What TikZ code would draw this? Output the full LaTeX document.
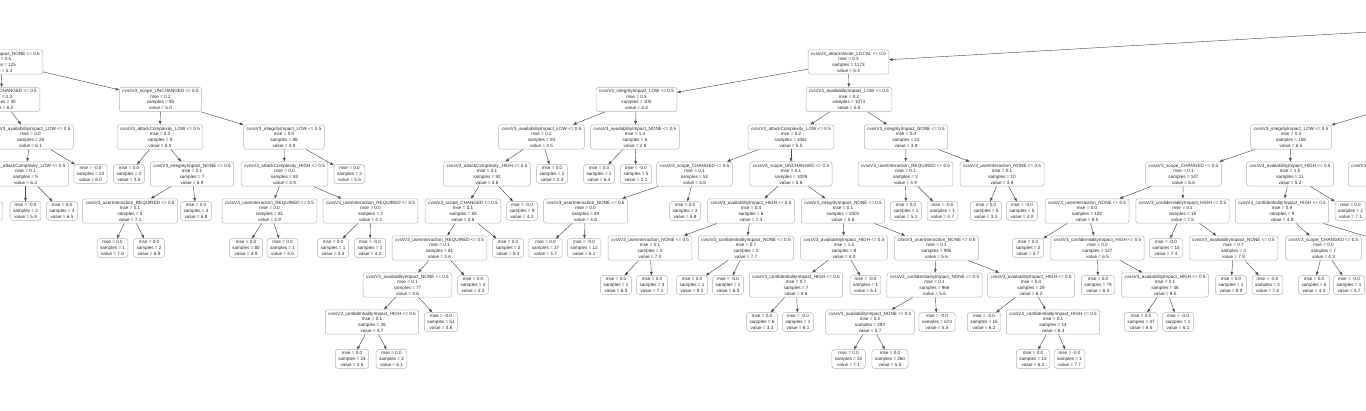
\documentclass[tikz,border=0pt]{standalone}
\usepackage{fontspec}
\setmainfont{Liberation Sans}
\usetikzlibrary{arrows.meta}

\newcommand{\condtxt}[4]{cvssV3\_#1 <= 0.5\\mse = #2\\samples = #3\\value = #4}
\newcommand{\leaftxt}[3]{mse = #1\\samples = #2\\value = #3}

\begin{document}
\begin{tikzpicture}[x=1pt, y=-1pt,
    >={Triangle[length=3.5pt,width=2.6pt]},
    decision/.style={draw=gray!60, line width=0.5pt, rounded corners=2.5pt,
        align=center, inner xsep=3pt, inner ysep=2pt, text=black!85,
        font=\fontsize{4.6}{5.7}\selectfont},
    leafbox/.style={decision},
    link/.style={->, draw=black!70, line width=0.45pt}]
    \useasboundingbox (0,0) rectangle (1366,410);
    \clip (0,0) rectangle (1366,410);

    % --- left part ---
    \node[decision, anchor=east] (l0) at (43,62) {\condtxt{integrityImpact\_NONE}{0.5}{125}{5.3}};
    \node[decision, anchor=east] (l1a) at (40,99.5) {\condtxt{scope\_CHANGED}{0.3}{30}{6.2}};
    \node[decision] (l1b) at (160.5,99.5) {\condtxt{scope\_UNCHANGED}{0.2}{95}{5.0}};
    \node[decision] (l2a) at (30.5,137) {\condtxt{availabilityImpact\_LOW}{0.0}{28}{6.1}};
    \node[decision] (l2b) at (160,137) {\condtxt{attackComplexity\_LOW}{0.3}{9}{6.0}};
    \node[decision] (l2c) at (284,137) {\condtxt{integrityImpact\_LOW}{0.0}{86}{4.9}};
    \node[decision] (l3a) at (25.5,174) {\condtxt{attackComplexity\_LOW}{0.1}{5}{6.3}};
    \node[leafbox] (l3b) at (90.5,174) {\leaftxt{-0.0}{23}{6.0}};
    \node[leafbox] (l3c) at (129,174) {\leaftxt{0.0}{2}{3.0}};
    \node[decision] (l3d) at (192,174) {\condtxt{integrityImpact\_NONE}{0.1}{7}{6.9}};
    \node[decision] (l3e) at (284.5,174) {\condtxt{attackComplexity\_HIGH}{0.0}{83}{4.9}};
    \node[leafbox] (l3f) at (349.5,174) {\leaftxt{0.0}{3}{5.5}};
    \node[leafbox, anchor=east] (l4z) at (3,211) {\leaftxt{0.0}{1}{7.6}};
    \node[leafbox] (l4a) at (25.5,211) {\leaftxt{-0.0}{2}{5.9}};
    \node[leafbox] (l4b) at (62,211) {\leaftxt{0.0}{3}{6.5}};
    \node[decision] (l4c) at (130,211) {\condtxt{userInteraction\_REQUIRED}{0.1}{3}{7.1}};
    \node[leafbox] (l4d) at (196,211) {\leaftxt{0.0}{4}{6.8}};
    \node[decision] (l4e) at (269.5,211) {\condtxt{userInteraction\_REQUIRED}{0.0}{81}{4.9}};
    \node[decision] (l4f) at (370.5,211) {\condtxt{userInteraction\_REQUIRED}{0.0}{2}{4.3}};
    \node[leafbox] (l5a) at (112.5,248) {\leaftxt{0.0}{1}{7.6}};
    \node[leafbox] (l5b) at (149,248) {\leaftxt{0.0}{2}{6.9}};
    \node[leafbox] (l5c) at (246,248) {\leaftxt{0.0}{80}{4.9}};
    \node[leafbox] (l5d) at (282.5,248) {\leaftxt{0.0}{1}{4.5}};
    \node[leafbox] (l5e) at (333,248) {\leaftxt{0.0}{1}{4.4}};
    \node[leafbox] (l5f) at (370,248) {\leaftxt{-0.0}{1}{4.2}};

    \draw[link] (l0) -- (l1a);
    \draw[link] (l0) -- (l1b);
    \draw[link] (l1a) -- (l2a);
    \draw[link] (l2a) -- (l3a);
    \draw[link] (l2a) -- (l3b);
    \draw[link] (l3a) -- (l4a);
    \draw[link] (l3a) -- (l4b);
    \draw[link] (l1b) -- (l2b);
    \draw[link] (l1b) -- (l2c);
    \draw[link] (l2b) -- (l3c);
    \draw[link] (l2b) -- (l3d);
    \draw[link] (l3d) -- (l4c);
    \draw[link] (l3d) -- (l4d);
    \draw[link] (l4c) -- (l5a);
    \draw[link] (l4c) -- (l5b);
    \draw[link] (l2c) -- (l3e);
    \draw[link] (l2c) -- (l3f);
    \draw[link] (l3e) -- (l4e);
    \draw[link] (l3e) -- (l4f);
    \draw[link] (l4e) -- (l5c);
    \draw[link] (l4e) -- (l5d);
    \draw[link] (l4f) -- (l5e);
    \draw[link] (l4f) -- (l5f);

    % --- middle part ---
    \node[decision] (m1) at (636.5,99.5) {\condtxt{integrityImpact\_LOW}{0.5}{100}{4.4}};
    \node[decision] (m2a) at (541.5,137) {\condtxt{availabilityImpact\_LOW}{0.2}{94}{4.5}};
    \node[decision] (m2b) at (635,137) {\condtxt{availabilityImpact\_NONE}{1.4}{6}{2.8}};
    \node[decision] (m3a) at (487,174) {\condtxt{attackComplexity\_HIGH}{0.1}{92}{4.6}};
    \node[leafbox] (m3b) at (552,174) {\leaftxt{0.0}{2}{2.4}};
    \node[leafbox] (m3c) at (599,174) {\leaftxt{0.0}{1}{6.4}};
    \node[leafbox] (m3d) at (636,174) {\leaftxt{-0.0}{5}{2.1}};
    \node[decision] (m4a) at (463,211) {\condtxt{scope\_CHANGED}{0.1}{83}{4.6}};
    \node[leafbox] (m4b) at (522,211) {\leaftxt{-0.0}{9}{4.2}};
    \node[decision] (m5a) at (439.5,248) {\condtxt{userInteraction\_REQUIRED}{0.1}{81}{4.6}};
    \node[leafbox] (m5b) at (508,248) {\leaftxt{0.0}{2}{5.3}};
    \node[decision] (m6a) at (407.5,285) {\condtxt{availabilityImpact\_NONE}{0.1}{77}{4.6}};
    \node[leafbox] (m6b) at (473,285) {\leaftxt{0.0}{4}{4.3}};
    \node[decision] (m7a) at (372,322) {\condtxt{confidentialityImpact\_HIGH}{0.1}{26}{4.7}};
    \node[leafbox] (m7b) at (441,322) {\leaftxt{-0.0}{51}{4.6}};
    \node[leafbox] (m8a) at (352,359) {\leaftxt{0.0}{24}{4.6}};
    \node[leafbox] (m8b) at (391.5,359) {\leaftxt{0.0}{2}{6.1}};

    \draw[link] (m1) -- (m2a);
    \draw[link] (m1) -- (m2b);
    \draw[link] (m2a) -- (m3a);
    \draw[link] (m2a) -- (m3b);
    \draw[link] (m2b) -- (m3c);
    \draw[link] (m2b) -- (m3d);
    \draw[link] (m3a) -- (m4a);
    \draw[link] (m3a) -- (m4b);
    \draw[link] (m4a) -- (m5a);
    \draw[link] (m4a) -- (m5b);
    \draw[link] (m5a) -- (m6a);
    \draw[link] (m5a) -- (m6b);
    \draw[link] (m6a) -- (m7a);
    \draw[link] (m6a) -- (m7b);
    \draw[link] (m7a) -- (m8a);
    \draw[link] (m7a) -- (m8b);

    % --- right part ---
    \coordinate (top) at (1500,24.5);
    \node[decision] (r0) at (848.5,62) {\condtxt{attackVector\_LOCAL}{0.3}{1173}{5.4}};
    \node[decision] (r1) at (849,99.5) {\condtxt{availabilityImpact\_LOW}{0.2}{1073}{5.5}};
    \node[decision] (r2a) at (791,137) {\condtxt{attackComplexity\_LOW}{0.2}{1061}{5.5}};
    \node[decision] (r2b) at (906,137) {\condtxt{integrityImpact\_NONE}{0.4}{12}{3.9}};
    \node[decision] (r3a) at (694.5,174) {\condtxt{scope\_CHANGED}{0.1}{52}{4.8}};
    \node[decision] (r3b) at (791,174) {\condtxt{scope\_UNCHANGED}{0.1}{1009}{5.6}};
    \node[decision] (r3c) at (905.5,174) {\condtxt{userInteraction\_REQUIRED}{0.1}{2}{4.9}};
    \node[decision] (r3d) at (1002,174) {\condtxt{userInteraction\_NONE}{0.1}{10}{3.6}};
    \node[decision] (r4a) at (585.5,211) {\condtxt{userInteraction\_NONE}{0.0}{49}{4.8}};
    \node[leafbox] (r4b) at (685,211) {\leaftxt{0.0}{3}{5.8}};
    \node[decision] (r4c) at (751,211) {\condtxt{availabilityImpact\_HIGH}{0.4}{6}{7.3}};
    \node[decision] (r4d) at (843,211) {\condtxt{integrityImpact\_NONE}{0.1}{1003}{5.6}};
    \node[leafbox] (r4e) at (906,211) {\leaftxt{0.0}{1}{5.1}};
    \node[leafbox] (r4f) at (942.5,211) {\leaftxt{-0.0}{1}{4.7}};
    \node[leafbox] (r4g) at (986,211) {\leaftxt{0.0}{5}{3.3}};
    \node[leafbox] (r4h) at (1022,211) {\leaftxt{-0.0}{5}{4.0}};
    \node[leafbox] (r5f) at (545.5,248) {\leaftxt{0.0}{37}{4.7}};
    \node[leafbox] (r5g) at (584,248) {\leaftxt{-0.0}{12}{5.1}};
    \node[decision] (r5c) at (650,248) {\condtxt{userInteraction\_NONE}{0.1}{4}{7.0}};
    \node[decision] (r5a) at (746,248) {\condtxt{confidentialityImpact\_NONE}{0.7}{2}{7.7}};
    \node[decision] (r5d) at (844,248) {\condtxt{availabilityImpact\_HIGH}{1.5}{8}{4.0}};
    \node[decision] (r5e) at (936.5,248) {\condtxt{userInteraction\_NONE}{0.1}{995}{5.6}};
    \node[leafbox] (r6d) at (616,285) {\leaftxt{0.0}{1}{6.3}};
    \node[leafbox] (r6e) at (652,285) {\leaftxt{0.0}{3}{7.1}};
    \node[leafbox] (r6f) at (692,285) {\leaftxt{0.0}{1}{9.2}};
    \node[leafbox] (r6g) at (728,285) {\leaftxt{-0.0}{1}{6.3}};
    \node[decision] (r6a) at (796,285) {\condtxt{confidentialityImpact\_HIGH}{0.7}{7}{3.6}};
    \node[leafbox] (r6b) at (865.5,285) {\leaftxt{-0.0}{1}{6.1}};
    \node[decision] (r6c) at (934.5,285) {\condtxt{confidentialityImpact\_NONE}{0.1}{966}{5.6}};
    \node[decision] (r6h) at (1031,285) {\condtxt{availabilityImpact\_HIGH}{0.0}{29}{6.2}};
    \node[leafbox] (r7c) at (762,322) {\leaftxt{0.0}{6}{3.3}};
    \node[leafbox] (r7d) at (798,322) {\leaftxt{-0.0}{1}{6.1}};
    \node[decision] (r7a) at (870,322) {\condtxt{availabilityImpact\_NONE}{0.2}{293}{5.7}};
    \node[leafbox] (r7b) at (937,322) {\leaftxt{-0.0}{673}{5.5}};
    \node[leafbox] (r7e) at (984,322) {\leaftxt{-0.0}{15}{6.2}};
    \node[decision] (r7f) at (1053,322) {\condtxt{confidentialityImpact\_HIGH}{0.1}{14}{6.3}};
    \node[leafbox] (r8a) at (848.5,359) {\leaftxt{0.0}{33}{7.1}};
    \node[leafbox] (r8b) at (890,359) {\leaftxt{0.0}{260}{5.5}};
    \node[leafbox] (r8c) at (1033,359) {\leaftxt{0.0}{13}{6.2}};
    \node[leafbox] (r8d) at (1069.5,359) {\leaftxt{-0.0}{1}{7.7}};

    \draw[link] (top) -- (r0);
    \draw[link] (r0) -- (m1);
    \draw[link] (r0) -- (r1);
    \draw[link] (r1) -- (r2a);
    \draw[link] (r1) -- (r2b);
    \draw[link] (r2a) -- (r3a);
    \draw[link] (r2a) -- (r3b);
    \draw[link] (r3a) -- (r4a);
    \draw[link] (r3a) -- (r4b);
    \draw[link] (r4a) -- (r5f);
    \draw[link] (r4a) -- (r5g);
    \draw[link] (r3b) -- (r4c);
    \draw[link] (r3b) -- (r4d);
    \draw[link] (r4c) -- (r5c);
    \draw[link] (r4c) -- (r5a);
    \draw[link] (r5c) -- (r6d);
    \draw[link] (r5c) -- (r6e);
    \draw[link] (r5a) -- (r6f);
    \draw[link] (r5a) -- (r6g);
    \draw[link] (r4d) -- (r5d);
    \draw[link] (r4d) -- (r5e);
    \draw[link] (r5d) -- (r6a);
    \draw[link] (r5d) -- (r6b);
    \draw[link] (r6a) -- (r7c);
    \draw[link] (r6a) -- (r7d);
    \draw[link] (r5e) -- (r6c);
    \draw[link] (r5e) -- (r6h);
    \draw[link] (r6c) -- (r7a);
    \draw[link] (r6c) -- (r7b);
    \draw[link] (r7a) -- (r8a);
    \draw[link] (r7a) -- (r8b);
    \draw[link] (r6h) -- (r7e);
    \draw[link] (r6h) -- (r7f);
    \draw[link] (r7f) -- (r8c);
    \draw[link] (r7f) -- (r8d);
    \draw[link] (r2b) -- (r3c);
    \draw[link] (r2b) -- (r3d);
    \draw[link] (r3c) -- (r4e);
    \draw[link] (r3c) -- (r4f);
    \draw[link] (r3d) -- (r4g);
    \draw[link] (r3d) -- (r4h);

    % --- far right part ---
    \coordinate (fup) at (1418,99.5);
    \node[decision] (f2) at (1291,137) {\condtxt{integrityImpact\_LOW}{0.3}{158}{6.5}};
    \node[decision] (f3a) at (1183.5,174) {\condtxt{scope\_CHANGED}{0.1}{147}{6.6}};
    \node[decision] (f3b) at (1290,174) {\condtxt{availabilityImpact\_HIGH}{1.5}{11}{5.2}};
    \node[decision, anchor=west] (f3c) at (1348,174) {\condtxt{userInteraction\_NONE}{0.1}{12}{5.9}};
    \node[decision] (f4a) at (1087,211) {\condtxt{userInteraction\_NONE}{0.0}{129}{6.5}};
    \node[decision] (f4b) at (1182.5,211) {\condtxt{confidentialityImpact\_HIGH}{0.1}{18}{7.5}};
    \node[decision] (f4c) at (1282,211) {\condtxt{confidentialityImpact\_HIGH}{0.9}{9}{4.8}};
    \node[leafbox] (f4d) at (1350.5,211) {\leaftxt{0.0}{2}{7.1}};
    \node[leafbox] (f5d) at (1028,248) {\leaftxt{0.0}{2}{5.7}};
    \node[decision] (f5a) at (1097.5,248) {\condtxt{confidentialityImpact\_HIGH}{0.0}{127}{6.5}};
    \node[leafbox] (f5e) at (1166,248) {\leaftxt{-0.0}{15}{7.4}};
    \node[decision] (f5b) at (1233.5,248) {\condtxt{availabilityImpact\_NONE}{0.7}{3}{7.9}};
    \node[decision] (f5c) at (1323.5,248) {\condtxt{scope\_CHANGED}{0.0}{7}{4.3}};
    \coordinate (fout) at (1405,248);
    \node[leafbox] (f6d) at (1098,285) {\leaftxt{0.0}{79}{6.5}};
    \node[decision] (f6a) at (1165,285) {\condtxt{availabilityImpact\_HIGH}{0.1}{48}{6.5}};
    \node[leafbox] (f6e) at (1231,285) {\leaftxt{0.0}{1}{8.9}};
    \node[leafbox] (f6f) at (1267.5,285) {\leaftxt{-0.0}{2}{7.4}};
    \node[leafbox] (f6g) at (1314,285) {\leaftxt{0.0}{6}{4.3}};
    \node[leafbox] (f6h) at (1349,285) {\leaftxt{-0.0}{1}{4.7}};
    \node[leafbox] (f7a) at (1141,322) {\leaftxt{0.0}{47}{6.5}};
    \node[leafbox] (f7b) at (1178,322) {\leaftxt{-0.0}{1}{6.1}};

    \draw[link] (fup) -- (f2);
    \draw[link] (f2) -- (f3a);
    \draw[link] (f2) -- (f3b);
    \draw[link] (f3a) -- (f4a);
    \draw[link] (f3a) -- (f4b);
    \draw[link] (f4a) -- (f5d);
    \draw[link] (f4a) -- (f5a);
    \draw[link] (f5a) -- (f6d);
    \draw[link] (f5a) -- (f6a);
    \draw[link] (f6a) -- (f7a);
    \draw[link] (f6a) -- (f7b);
    \draw[link] (f4b) -- (f5e);
    \draw[link] (f4b) -- (f5b);
    \draw[link] (f5b) -- (f6e);
    \draw[link] (f5b) -- (f6f);
    \draw[link] (f3b) -- (f4c);
    \draw[link] (f3b) -- (f4d);
    \draw[link] (f4c) -- (f5c);
    \draw[link] (f4c) -- (fout);
    \draw[link] (f5c) -- (f6g);
    \draw[link] (f5c) -- (f6h);
\end{tikzpicture}
\end{document}
